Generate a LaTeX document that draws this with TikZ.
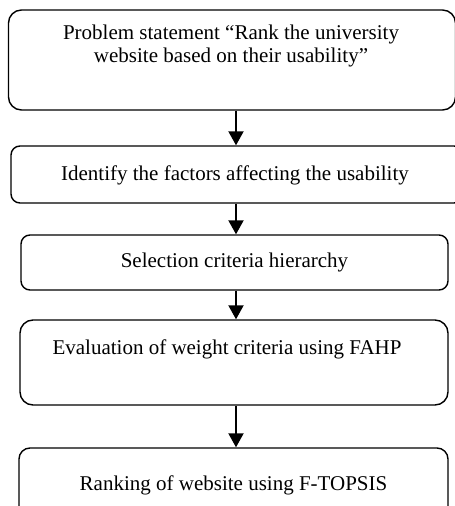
\documentclass[tikz,border=0pt]{standalone}
\usepackage{fontspec}
\setmainfont{Liberation Serif}
\usetikzlibrary{arrows.meta}

\begin{document}
\begin{tikzpicture}[x=1pt,y=-1pt,>=Stealth,
  stepbox/.style={draw,line width=1.4pt,rounded corners=9pt,inner sep=0pt},
  steptext/.style={font=\fontsize{21}{22.5}\selectfont,align=center,inner sep=0pt},
  flow/.style={line width=2pt,-{Triangle[length=14pt,width=15pt]}}]
  \useasboundingbox (0,0) rectangle (455,506);
  % boxes
  \node[stepbox,rounded corners=13pt,minimum width=447pt,minimum height=100pt] (prob) at (232,60) {};
  \node[steptext] (probtxt) at (231,46) {Problem statement “Rank the university\\website based on their usability”};
  \node[stepbox,minimum width=452pt,minimum height=57pt] (fact) at (237,174.5) {};
  \node[steptext] (facttxt) at (235,175) {Identify the factors affecting the usability};
  \node[stepbox,steptext,minimum width=427pt,minimum height=55pt] (hier) at (234.5,262.5)
    {Selection criteria hierarchy};
  \node[stepbox,rounded corners=13pt,minimum width=428pt,minimum height=85pt] (fahp) at (234,362.5) {};
  \node[steptext] (fahptxt) at (227,349) {Evaluation of weight criteria using FAHP};
  \node[stepbox,steptext,rounded corners=11pt,minimum width=429pt,minimum height=74pt] (rank) at (233.5,485)
    {Ranking of website using F-TOPSIS};
  % arrows
  \coordinate (ax) at (236,0);
  \draw[flow] (prob.south -| ax) -- (fact.north -| ax);
  \draw[flow] (fact.south -| ax) -- (hier.north -| ax);
  \draw[flow] (hier.south -| ax) -- (fahp.north -| ax);
  \draw[flow] (fahp.south -| ax) -- (rank.north -| ax);
\end{tikzpicture}
\end{document}
